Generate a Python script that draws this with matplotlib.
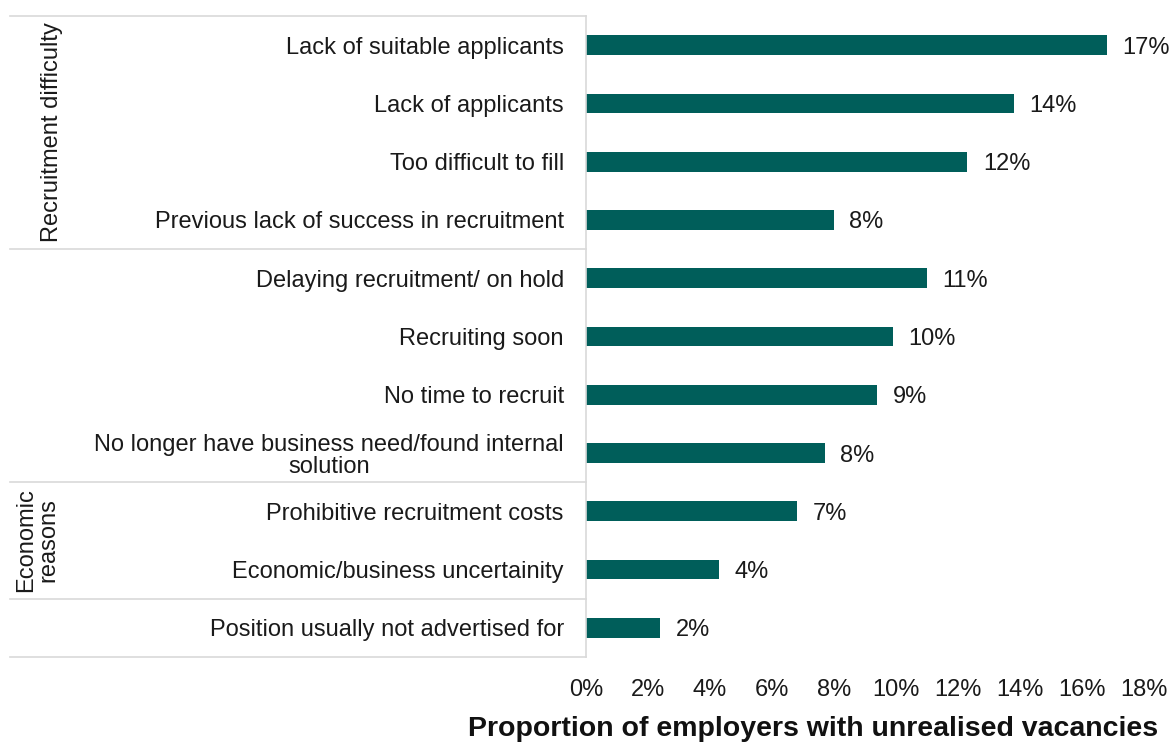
import matplotlib.pyplot as plt
from matplotlib.transforms import blended_transform_factory

plt.rcParams['font.family'] = ['Liberation Sans', 'DejaVu Sans']

reasons = ["Lack of suitable applicants", "Lack of applicants", "Too difficult to fill",
           "Previous lack of success in recruitment", "Delaying recruitment/ on hold",
           "Recruiting soon", "No time to recruit",
           "No longer have business need/found internal\nsolution",
           "Prohibitive recruitment costs", "Economic/business uncertainity",
           "Position usually not advertised for"]
values = [16.8, 13.8, 12.3, 8.0, 11.0, 9.9, 9.4, 7.7, 6.8, 4.3, 2.4]
xticks = [0, 2, 4, 6, 8, 10, 12, 14, 16, 18]
# group boundaries (row index where each group ends) and group labels
group_breaks = [-0.5, 3.5, 7.5, 9.5, 10.5]
group_labels = [("Recruitment difficulty", 0, 3), ("Economic\nreasons", 8, 9)]

color = "#005E5A"
grey = "#d9d9d9"
fs = 17

fig = plt.figure(figsize=(11.75, 7.42), dpi=100)
ax = fig.add_axes([586/1175, 1-657/742, (1144-586)/1175, (657-16)/742])

y = list(range(len(reasons)))
ax.barh(y, values, height=0.34, color=color)
for yi, v in zip(y, values):
    ax.text(v + 0.5, yi, "%d%%" % round(v), va="center_baseline", ha="left",
            fontsize=fs, color="#1a1a1a")

ax.set_xlim(0, 18)
ax.set_ylim(10.5, -0.5)
ax.set_xticks(xticks)
ax.set_xticklabels(["%d%%" % t for t in xticks], fontsize=fs, color="#1a1a1a")
ax.set_yticks(y)
ax.set_yticklabels(reasons, fontsize=fs, color="#1a1a1a")
for lab in ax.get_yticklabels():
    lab.set_multialignment("center")
    lab.set_linespacing(1.0)
ax.tick_params(axis="y", length=0, pad=16)
ax.tick_params(axis="x", length=0, pad=16)
for s in ["top", "right", "bottom"]:
    ax.spines[s].set_visible(False)
ax.spines["left"].set_color(grey)
ax.spines["left"].set_linewidth(1.2)

fig.text(813/1175, 1-729/742, "Proportion of employers with unrealised vacancies",
         fontsize=20.5, fontweight="bold", ha="center", va="center", color="#111111")

trans = blended_transform_factory(ax.transAxes, ax.transData)
left = (10 - 586) / (1144 - 586)
for b in group_breaks:
    ax.plot([left, 0], [b, b], color=grey, lw=1.2, transform=trans, clip_on=False)

for text, r0, r1 in group_labels:
    xpos = (52 - 586) / (1144 - 586) if "\n" not in text else (37 - 586) / (1144 - 586)
    ax.text(xpos, (r0 + r1) / 2, text, rotation=90, ha="center", va="center",
            multialignment="center", linespacing=1.0, fontsize=fs, color="#1a1a1a",
            transform=trans)

fig.savefig("out.png", dpi=100)
